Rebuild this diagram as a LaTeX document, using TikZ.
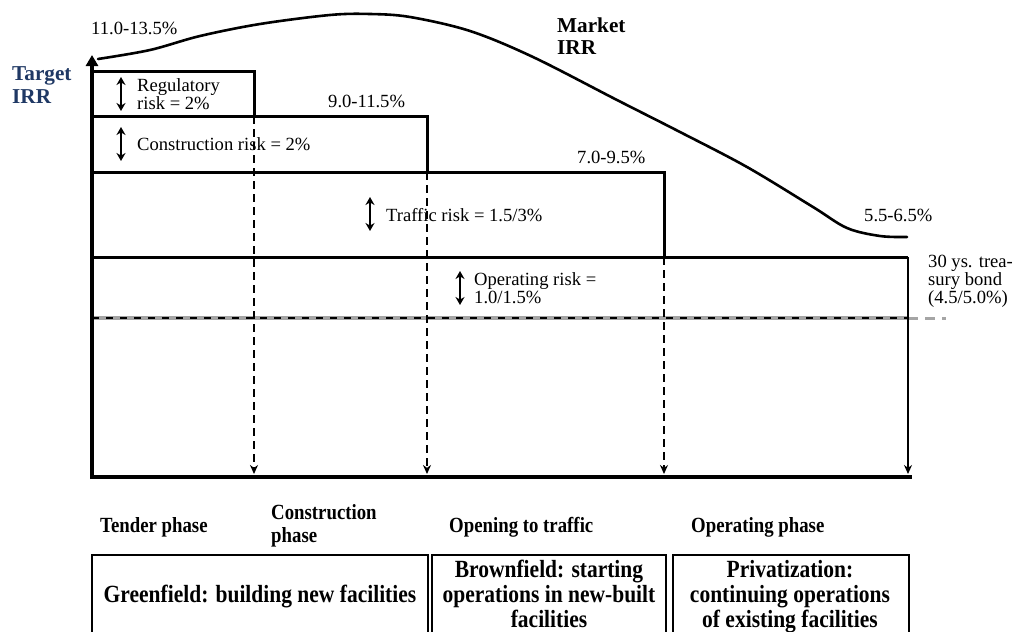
\documentclass[tikz,border=0pt]{standalone}
\usepackage{fontspec}
\setmainfont{Liberation Serif}
\usetikzlibrary{arrows.meta}
\definecolor{navy}{RGB}{31,56,100}
\definecolor{lgray}{RGB}{165,165,165}
\begin{document}
\begin{tikzpicture}[x=1pt,y=-1pt,
  lbl/.style={inner sep=0pt, anchor=west, align=left, font=\fontsize{18.6}{14.5}\selectfont},
  blbl/.style={inner sep=0pt, anchor=west, align=left, font=\fontsize{21.2}{22.5}\selectfont\bfseries},
  phase/.style={inner sep=0pt, anchor=west, align=left, font=\fontsize{18.8}{22}\selectfont\bfseries},
  boxtxt/.style={inner sep=0pt, align=center, font=\fontsize{21.5}{24.5}\selectfont\bfseries},
  axisline/.style={line width=4.5pt},
  stepline/.style={line width=3pt},
  dline/.style={line width=2.4pt, dash pattern=on 8pt off 5pt, -{Stealth[length=9pt,width=8pt]}},
  dblarrow/.style={line width=2.4pt, {Stealth[length=8pt,width=9pt]}-{Stealth[length=8pt,width=9pt]}},
  phasebox/.style={line width=2.8pt},
]
\clip (0,0) rectangle (1013,632);
\fill[white] (0,0) rectangle (1013,632);

% coordinates
\coordinate (O) at (92,477);
\coordinate (Ytop) at (92,55);
\coordinate (Xend) at (912,477);
\coordinate (a0) at (92,71);  \coordinate (a1) at (254,71);  \coordinate (a2) at (254,116); \coordinate (a3) at (254,474);
\coordinate (b0) at (92,116); \coordinate (b1) at (427,116); \coordinate (b2) at (427,172); \coordinate (b3) at (427,474);
\coordinate (c0) at (92,172); \coordinate (c1) at (664,172); \coordinate (c2) at (664,257); \coordinate (c3) at (664,474);
\coordinate (d0) at (92,257); \coordinate (d1) at (908,257); \coordinate (d3) at (908,474);
\coordinate (t0) at (92,318); \coordinate (t1) at (908,318); \coordinate (t2) at (946,318);

% gray treasury line
\draw[lgray, line width=3.5pt] (t0) -- (t1);
\draw[black, line width=2.5pt, dash pattern=on 7pt off 7pt] (t0) -- (t1);
\draw[lgray, line width=3pt, dash pattern=on 10pt off 7pt] (t1) -- (t2);

% steps
\draw[stepline] (a0) -- (a1) -- (a2);
\draw[stepline] (b0) -- (b1) -- (b2);
\draw[stepline] (c0) -- (c1) -- (c2);
\draw[stepline] (d0) -- (d1);
\draw[dline] (a2) -- (a3);
\draw[dline] (b2) -- (b3);
\draw[dline] (c2) -- (c3);
\draw[line width=2.4pt, -{Stealth[length=9pt,width=8pt]}] (d1) -- (d3);

% axes
\draw[axisline] (90,477) -- (Xend);
\draw[axisline, -{Triangle[length=11pt,width=12pt]}] (92,479) -- (Ytop);

% market IRR curve
\draw[line width=2.6pt, line cap=round] plot[smooth, tension=0.55] coordinates {
 (98,59) (150,50) (200,36) (260,24) (330,15) (370,14) (410,17) (470,31)
 (533,57) (617,100) (680,132) (747,167) (813,207) (847,228) (880,236) (907,237)};

% double arrows
\coordinate (r1a) at (121,77);  \coordinate (r1b) at (121,111);
\coordinate (r2a) at (121,127); \coordinate (r2b) at (121,161);
\coordinate (r3a) at (370,197); \coordinate (r3b) at (370,231);
\coordinate (r4a) at (460,271); \coordinate (r4b) at (460,305);
\draw[dblarrow] (r1a) -- (r1b);
\draw[dblarrow] (r2a) -- (r2b);
\draw[dblarrow] (r3a) -- (r3b);
\draw[dblarrow] (r4a) -- (r4b);

% labels
\node[lbl] (l1) at (91,28) {11.0-13.5\%};
\node[blbl, text=navy] (tirr) at (12,85) {Target\\IRR};
\node[blbl] (mirr) at (557,36) {Market\\IRR};
\node[lbl] (reg) at (137,94) {Regulatory\\risk = 2\%};
\node[lbl] (con) at (137,144) {Construction risk = 2\%};
\node[lbl] (l2) at (328,101) {9.0-11.5\%};
\node[lbl] (l3) at (577,157) {7.0-9.5\%};
\node[lbl] (tra) at (386,215) {Traffic risk = 1.5/3\%};
\node[lbl] (l4) at (864,215) {5.5-6.5\%};
\node[lbl, font=\fontsize{18.6}{15.5}\selectfont] (tb) at (928,281) {30 ys. trea-\\sury bond\\(4.5/5.0\%)};
\node[lbl] (opr) at (474,288) {Operating risk =\\1.0/1.5\%};

% phases
\node[phase] (p1) at (100,527) {\scalebox{1}[1.15]{Tender phase}};
\node[phase] (p2) at (271,526) {\scalebox{1}[1.15]{\begin{tabular}{@{}l@{}}Construction\\[-2pt]phase\end{tabular}}};
\node[phase] (p3) at (449,527) {\scalebox{1}[1.15]{Opening to traffic}};
\node[phase] (p4) at (691,527) {\scalebox{1}[1.15]{Operating phase}};

% boxes
\draw[phasebox] (92,555) rectangle (428,645);
\draw[phasebox] (432,555) rectangle (666,645);
\draw[phasebox] (673,555) rectangle (909,645);
\node[boxtxt] (g) at (260,597) {\scalebox{1}[1.15]{Greenfield: building new facilities}};
\node[boxtxt] (bf) at (549,597) {\scalebox{1}[1.15]{\begin{tabular}{@{}c@{}}Brownfield: starting\\[-3pt]operations in new-built\\[-3pt]facilities\end{tabular}}};
\node[boxtxt] (pv) at (790,597) {\scalebox{1}[1.15]{\begin{tabular}{@{}c@{}}Privatization:\\[-3pt]continuing operations\\[-3pt]of existing facilities\end{tabular}}};
\end{tikzpicture}
\end{document}
